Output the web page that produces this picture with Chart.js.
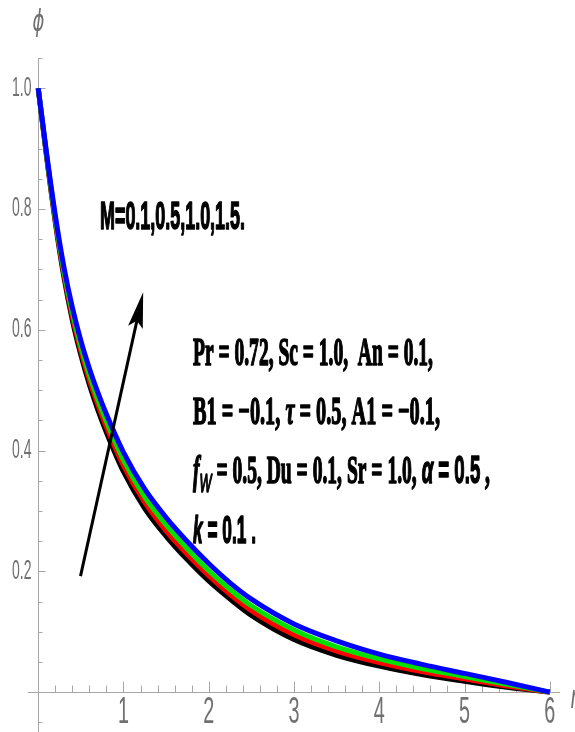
<!DOCTYPE html>
<html>
<head>
<meta charset="utf-8">
<script src="https://cdn.jsdelivr.net/npm/chart.js@4.4.1/dist/chart.umd.min.js"></script>
<style>
  html, body { margin: 0; padding: 0; background: #fff; }
  #wrap { width: 575px; height: 732px; }
</style>
</head>
<body>
<div id="wrap"><canvas id="main_graph" width="575" height="732"></canvas></div>
<script>
// eta values where the profiles were read
const etaValues = [0, 0.1, 0.2, 0.3, 0.4, 0.5, 0.6, 0.7, 0.8, 1.0, 1.25, 1.5, 1.75, 2.0, 2.25, 2.5, 3.0, 3.5, 4.0, 4.5, 5.0, 5.5, 6.0];

// phi(eta) for M = 0.1, 0.5, 1.0, 1.5
const phiM01 = [1.0, 0.884, 0.778, 0.688, 0.616, 0.558, 0.509, 0.467, 0.430, 0.365, 0.304, 0.258, 0.219, 0.184, 0.154, 0.127, 0.087, 0.061, 0.043, 0.029, 0.018, 0.008, 0.0];
const phiM05 = [1.0, 0.886, 0.782, 0.693, 0.622, 0.565, 0.517, 0.476, 0.439, 0.375, 0.314, 0.267, 0.228, 0.193, 0.162, 0.135, 0.095, 0.068, 0.049, 0.034, 0.022, 0.010, 0.0];
const phiM10 = [1.0, 0.888, 0.785, 0.698, 0.629, 0.572, 0.525, 0.484, 0.448, 0.384, 0.323, 0.277, 0.237, 0.201, 0.170, 0.143, 0.103, 0.075, 0.055, 0.039, 0.026, 0.013, 0.0];
const phiM15 = [1.0, 0.890, 0.790, 0.705, 0.637, 0.582, 0.536, 0.496, 0.460, 0.397, 0.336, 0.289, 0.249, 0.213, 0.181, 0.154, 0.113, 0.085, 0.063, 0.046, 0.031, 0.016, 0.0];

const mLabels = ['M = 0.1', 'M = 0.5', 'M = 1.0', 'M = 1.5'];
const xTickLabels = ['1', '2', '3', '4', '5', '6'];
const yTickLabels = ['0.2', '0.4', '0.6', '0.8', '1.0'];

window.onload = function () {

  const SERIF = '"Liberation Serif", "Times New Roman", serif';
  const SANS = '"Liberation Sans", Arial, sans-serif';

  let toPoints = function (ys) {
    return etaValues.map(function (x, i) { return { x: x, y: ys[i] }; });
  };

  // text squeezed sideways like the original figure
  let drawScaled = function (ctx, text, font, x, y, sx, align, base) {
    ctx.save();
    ctx.translate(x, y);
    ctx.scale(sx, 1);
    ctx.font = font;
    ctx.textAlign = align;
    ctx.textBaseline = base;
    ctx.fillText(text, 0, 0);
    ctx.restore();
  };

  // parts: [text, font, dy]; stretched to the given width
  let drawFitted = function (ctx, parts, x, baseline, width) {
    let total = 0;
    parts.forEach(function (p) { ctx.font = p[1]; total += ctx.measureText(p[0]).width; });
    let sx = width / total;
    ctx.save();
    ctx.translate(x, baseline);
    ctx.scale(sx, 1);
    ctx.textAlign = 'left';
    ctx.textBaseline = 'alphabetic';
    ctx.fillStyle = '#000';
    ctx.strokeStyle = '#000';
    ctx.lineWidth = 1.6;
    ctx.lineJoin = 'round';
    let cx = 0;
    parts.forEach(function (p) {
      ctx.font = p[1];
      ctx.fillText(p[0], cx, p[2] || 0);
      ctx.strokeText(p[0], cx, p[2] || 0);
      cx += ctx.measureText(p[0]).width;
    });
    ctx.restore();
  };

  let axesPlugin = {
    id: 'mmaAxes',
    beforeDatasetsDraw: function (chart) {
      let ctx = chart.ctx, xs = chart.scales.x, ys = chart.scales.y, area = chart.chartArea;
      let x0 = Math.round(xs.getPixelForValue(0)) + 0.5;
      let y0 = Math.round(ys.getPixelForValue(0)) + 0.5;
      ctx.save();
      ctx.strokeStyle = '#a6a6a6';
      ctx.lineWidth = 1;
      ctx.beginPath();
      ctx.moveTo(area.left, y0); ctx.lineTo(area.right, y0);
      ctx.moveTo(x0, area.top); ctx.lineTo(x0, area.bottom);
      // x ticks every 0.2, bigger on integers
      for (let i = 1; i <= 30; i++) {
        let px = Math.round(xs.getPixelForValue(i * 0.2)) + 0.5;
        let len = (i % 5 === 0) ? 11 : 7;
        ctx.moveTo(px, y0); ctx.lineTo(px, y0 - len);
      }
      // y ticks every 0.05, bigger on 0.2 steps
      for (let i = -1; i <= 21; i++) {
        if (i === 0) continue;
        let py = Math.round(ys.getPixelForValue(i * 0.05)) + 0.5;
        let len = (i % 4 === 0) ? 7 : 4;
        ctx.moveTo(x0, py); ctx.lineTo(x0 + len, py);
      }
      ctx.stroke();

      ctx.fillStyle = '#707070';
      xTickLabels.forEach(function (t) {
        drawScaled(ctx, t, '36px ' + SANS, xs.getPixelForValue(Number(t)), 713, 0.55, 'center', 'middle');
      });
      yTickLabels.forEach(function (t) {
        drawScaled(ctx, t, '27px ' + SANS, x0 - 7, ys.getPixelForValue(Number(t)), 0.52, 'right', 'middle');
      });
      drawScaled(ctx, '\u03d5', 'italic 30px "DejaVu Sans", sans-serif', x0, 23, 0.6, 'center', 'middle');
      drawScaled(ctx, '\u03b7', 'italic 32px "DejaVu Sans", sans-serif', 570, 700, 0.6, 'left', 'middle');
      ctx.restore();
    },
    afterDatasetsDraw: function (chart) {
      let ctx = chart.ctx, xs = chart.scales.x, ys = chart.scales.y;
      ctx.save();
      // arrow showing increasing M
      let ax = xs.getPixelForValue(0.496), ay = ys.getPixelForValue(0.192);
      let bx = xs.getPixelForValue(1.231), by = ys.getPixelForValue(0.662);
      let ang = Math.atan2(by - ay, bx - ax);
      let c = Math.cos(ang), s = Math.sin(ang);
      let headLen = 36, headW = 7.5, notch = 29;
      ctx.strokeStyle = '#000';
      ctx.fillStyle = '#000';
      ctx.lineWidth = 3;
      ctx.beginPath();
      ctx.moveTo(ax, ay);
      ctx.lineTo(bx - notch * c, by - notch * s);
      ctx.stroke();
      ctx.beginPath();
      ctx.moveTo(bx, by);
      ctx.lineTo(bx - headLen * c - headW * s, by - headLen * s + headW * c);
      ctx.lineTo(bx - notch * c, by - notch * s);
      ctx.lineTo(bx - headLen * c + headW * s, by - headLen * s - headW * c);
      ctx.closePath();
      ctx.fill();

      // labels
      drawFitted(ctx, [['M=0.1,0.5,1.0,1.5.', 'bold 38px ' + SANS]], 100, 229, 145);
      drawFitted(ctx, [['Pr = 0.72, Sc = 1.0,  An = 0.1,', 'bold 40px ' + SERIF]], 193, 365, 240);
      drawFitted(ctx, [
        ['B1 = \u22120.1, ', 'bold 40px ' + SERIF],
        ['\u03c4', 'italic bold 40px ' + SERIF],
        [' = 0.5, A1 = \u22120.1,', 'bold 40px ' + SERIF]
      ], 193, 424, 247);
      drawFitted(ctx, [
        ['f', 'italic bold 40px ' + SERIF],
        ['W', 'italic 26px ' + SANS, 9],
        [' = 0.5, Du = 0.1, Sr = 1.0, ', 'bold 40px ' + SERIF],
        ['\u03b1', 'bold italic 38px ' + SANS],
        [' = 0.5', 'bold 38px ' + SANS],
        [' ,', 'bold 40px ' + SERIF]
      ], 193, 483, 297);
      drawFitted(ctx, [
        ['k', 'bold italic 38px ' + SANS],
        [' = 0.1 .', 'bold 38px ' + SANS]
      ], 193, 543, 63);
      ctx.restore();
    }
  };

  let ctx = document.getElementById('main_graph').getContext('2d');
  let chart = new Chart(ctx, {
    type: 'line',
    data: {
      datasets: [
        { label: mLabels[0], data: toPoints(phiM01), borderColor: '#000000', order: 4 },
        { label: mLabels[1], data: toPoints(phiM05), borderColor: '#ff0000', order: 3 },
        { label: mLabels[2], data: toPoints(phiM10), borderColor: '#00e000', order: 2 },
        { label: mLabels[3], data: toPoints(phiM15), borderColor: '#0000ff', order: 1 }
      ]
    },
    options: {
      responsive: false,
      animation: false,
      devicePixelRatio: 1,
      layout: { padding: { left: 28, right: 15, top: 58, bottom: 0 } },
      elements: {
        line: { borderWidth: 5, cubicInterpolationMode: 'monotone', fill: false },
        point: { radius: 0 }
      },
      scales: {
        x: { type: 'linear', min: -0.12, max: 6.12, display: false },
        y: { type: 'linear', min: -0.066, max: 1.05, display: false }
      },
      plugins: { legend: { display: false }, tooltip: { enabled: false } }
    },
    plugins: [axesPlugin]
  });

}
</script>
</body>
</html>
